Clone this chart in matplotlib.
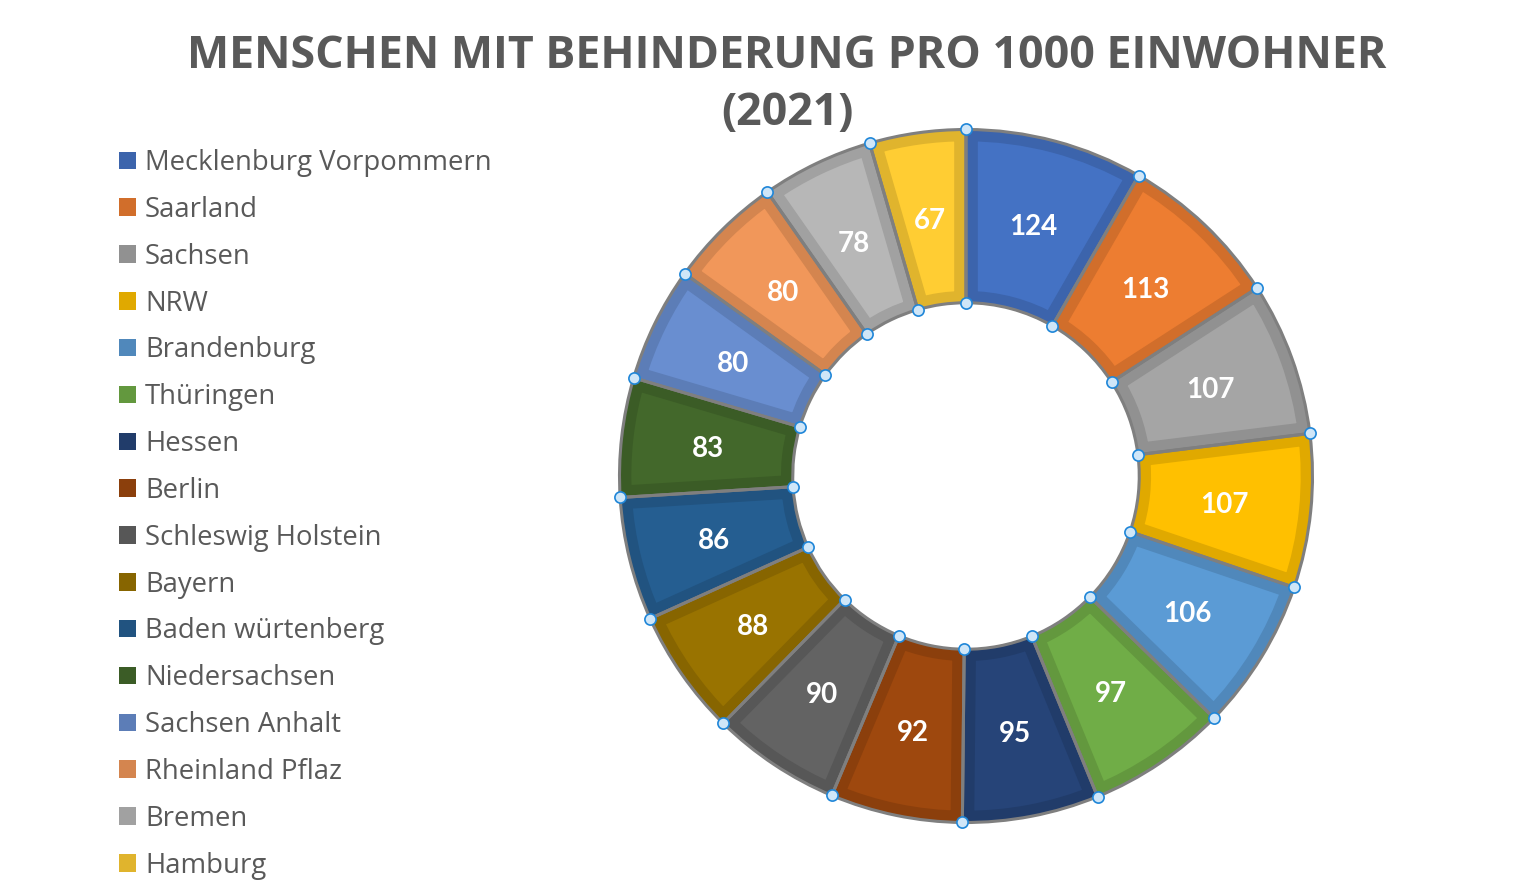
import numpy as np
import matplotlib
matplotlib.use("Agg")
import matplotlib.pyplot as plt
from matplotlib.patches import Patch
from matplotlib.colors import to_rgb

categories = ["Mecklenburg Vorpommern", "Saarland", "Sachsen", "NRW", "Brandenburg",
              "Thüringen", "Hessen", "Berlin", "Schleswig Holstein", "Bayern",
              "Baden würtenberg", "Niedersachsen", "Sachsen Anhalt", "Rheinland Pflaz",
              "Bremen", "Hamburg"]
values = [124, 113, 107, 107, 106, 97, 95, 92, 90, 88, 86, 83, 80, 80, 78, 67]
colors = ["#4472C4", "#ED7D31", "#A5A5A5", "#FFC000", "#5B9BD5", "#70AD47",
          "#264478", "#9E480E", "#636363", "#997300", "#255E91", "#43682B",
          "#698ED0", "#F1975A", "#B7B7B7", "#FFCD33"]
title = "MENSCHEN MIT BEHINDERUNG PRO 1000 EINWOHNER\n(2021)"


def darker(c, f=0.88):
    r, g, b = to_rgb(c)
    return (r * f, g * f, b * f)


W, H = 1522, 882
fig = plt.figure(figsize=(W / 100, H / 100), dpi=100)

cx, cy, R = 966, 476, 346.5
lim = 1.1
side = 2 * R * lim
ax = fig.add_axes([(cx - side / 2) / W, (H - cy - side / 2) / H, side / W, side / H])

band_colors = [darker(c) for c in colors]

wedges, texts = ax.pie(values, colors=colors, startangle=90, counterclock=False,
                       radius=1.0, labels=[str(v) for v in values], labeldistance=0.75,
                       wedgeprops=dict(width=0.5, linewidth=0),
                       textprops=dict(color="white", fontsize=20, fontweight="bold",
                                      family=["Lato", "DejaVu Sans"], ha="center",
                                      va="center_baseline"))

# grey outlines
ax.pie(values, colors=["none"] * len(values), startangle=90, counterclock=False,
       radius=1.0, wedgeprops=dict(width=0.5, linewidth=2.2, edgecolor="#7F7F7F"))
ax.set_xlim(-lim, lim)
ax.set_ylim(-lim, lim)
ax.set_aspect("equal")
ax.axis("off")

for w, bc in zip(wedges, band_colors):
    w.set_edgecolor(bc)
    w.set_linewidth(17)
    w.set_joinstyle("miter")
    w.set_clip_on(True)
    w.set_clip_path(w.get_path(), w.get_transform())
for t in texts:
    t.set_zorder(10)

# selection handles at segment boundaries
cum = np.concatenate([[0], np.cumsum(values)[:-1]])
theta = np.deg2rad(90 - 360 * cum / np.sum(values))
for r in (1.0, 0.5):
    ax.scatter(r * np.cos(theta), r * np.sin(theta), s=65, facecolor="#CFE6F8",
               edgecolor="#1F86D8", linewidth=1.2, zorder=12, clip_on=False)

# title
fig.text(787 / W, 1 - 85 / H, title, ha="center", va="center", fontsize=32.2,
         fontweight="bold", color="#595959", family=["Open Sans", "DejaVu Sans"],
         linespacing=1.37)

# legend
handles = [Patch(facecolor=bc, edgecolor="none") for bc in band_colors]
fig.legend(handles, categories, loc="upper left", bbox_to_anchor=(119 / W, 1 - 149 / H),
           frameon=False, labelcolor="#595959",
           prop=dict(family="Open Sans", size=19.8),
           handlelength=0.6, handleheight=0.6, handletextpad=0.35,
           labelspacing=0.685, borderpad=0, borderaxespad=0)

fig.savefig("out.png", dpi=100)
